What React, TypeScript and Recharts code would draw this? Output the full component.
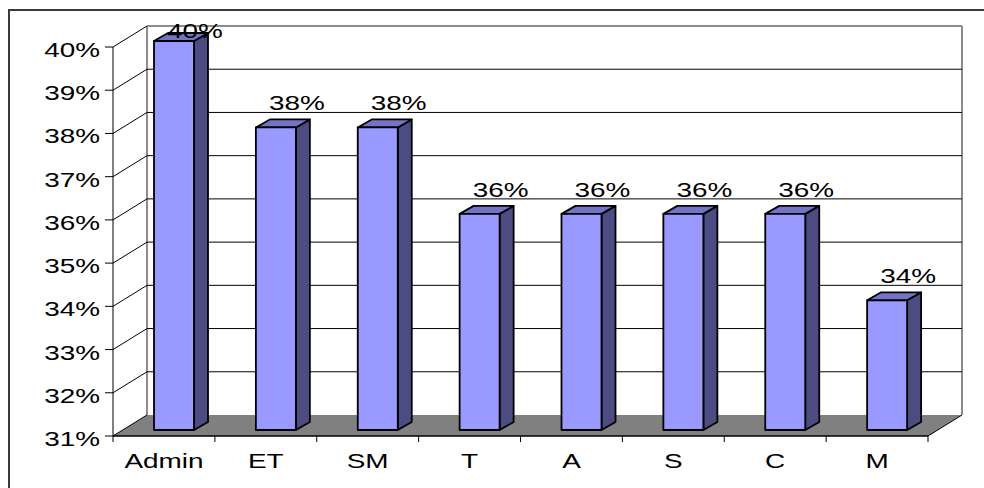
import { BarChart, Bar, XAxis, YAxis, CartesianGrid, LabelList } from "recharts";

const categories = ["Admin", "ET", "SM", "T", "A", "S", "C", "M"];
const shares = [40, 38, 38, 36, 36, 36, 36, 34];
const yTicks = [31, 32, 33, 34, 35, 36, 37, 38, 39, 40];

const data = categories.map((name, i) => ({ name, value: shares[i] }));

const FONT = "'Liberation Sans', Arial, sans-serif";
const FONT_SIZE = 21;
const STRETCH = 1.33; // text is drawn wide

// depth of the walls / floor
const WALL_DX = 34;
const WALL_DY = 21;
// each column sits in the middle of that depth
const COL_DX = 10;
const COL_DY = 6;
const SIDE_DX = 14;
const SIDE_DY = 8;

const FRONT = "#9999FF";
const TOP = "#7474C6";
const SIDE = "#4C4C82";
const FLOOR = "#808080";
const WALL = "#8C8C8C";

function Column(props: any) {
  const { x, y, width, height } = props;
  const l = x + COL_DX;
  const r = l + width;
  const t = y - COL_DY;
  const b = t + height;
  return (
    <g stroke="#000" strokeWidth={1.8} strokeLinejoin="round">
      <polygon
        points={`${r},${t} ${r + SIDE_DX},${t - SIDE_DY} ${r + SIDE_DX},${b - SIDE_DY} ${r},${b}`}
        fill={SIDE}
      />
      <polygon
        points={`${l},${t} ${l + SIDE_DX},${t - SIDE_DY} ${r + SIDE_DX},${t - SIDE_DY} ${r},${t}`}
        fill={TOP}
      />
      <rect x={l} y={t} width={width} height={height} fill={FRONT} />
    </g>
  );
}

// one row of the grid: the diagonal from the front axis plus the line on the back wall;
// the bottom row also draws the floor and the wall edges
function GridRow(props: any) {
  const { x1, x2, y1, y, height } = props;
  const by = y1 - WALL_DY;
  const isFloor = Math.abs(y1 - (y + height)) < 0.5;
  const isTop = Math.abs(y1 - y) < 0.5;
  const diag = <line x1={x1} y1={y1} x2={x1 + WALL_DX} y2={by} stroke="#000" strokeWidth={1} />;
  if (isFloor) {
    return (
      <g>
        <polygon
          points={`${x1},${y1} ${x2},${y1} ${x2 + WALL_DX},${by} ${x1 + WALL_DX},${by}`}
          fill={FLOOR}
        />
        <line x1={x2} y1={y1} x2={x2 + WALL_DX} y2={by} stroke="#000" strokeWidth={1} />
        <line x1={x1 + WALL_DX} y1={y - WALL_DY} x2={x1 + WALL_DX} y2={by} stroke={WALL} strokeWidth={2} />
        <line x1={x2 + WALL_DX} y1={y - WALL_DY} x2={x2 + WALL_DX} y2={by} stroke={WALL} strokeWidth={2} />
        {diag}
      </g>
    );
  }
  return (
    <g>
      {diag}
      <line
        x1={x1 + WALL_DX}
        y1={by}
        x2={x2 + WALL_DX}
        y2={by}
        stroke={isTop ? WALL : "#000"}
        strokeWidth={isTop ? 2 : 1}
      />
    </g>
  );
}

function YTick(props: any) {
  const { x, y, payload } = props;
  return (
    <text
      transform={`translate(${x},${y + 10}) scale(${STRETCH},1)`}
      textAnchor="end"
      fontFamily={FONT}
      fontSize={FONT_SIZE}
      fill="#000"
    >
      {`${payload.value}%`}
    </text>
  );
}

// category label plus tick marks between categories
function XTick(props: any) {
  const { x, y, payload, index, visibleTicksCount, width } = props;
  const band = width && visibleTicksCount ? width / visibleTicksCount : payload.offset * 2;
  const left = x - band / 2;
  const right = x + band / 2;
  return (
    <g>
      <line x1={left} y1={y} x2={left} y2={y + 6} stroke="#000" />
      {index === visibleTicksCount - 1 && <line x1={right} y1={y} x2={right} y2={y + 6} stroke="#000" />}
      <text
        transform={`translate(${x},${y + 32}) scale(${STRETCH},1)`}
        textAnchor="middle"
        fontFamily={FONT}
        fontSize={FONT_SIZE}
        fill="#000"
      >
        {payload.value}
      </text>
    </g>
  );
}

function ValueLabel(props: any) {
  const { x, y, width, value } = props;
  const cx = x + COL_DX + width + 1;
  const base = Math.max(y - COL_DY - 17, 38);
  return (
    <text
      transform={`translate(${cx},${base}) scale(${STRETCH},1)`}
      textAnchor="middle"
      fontFamily={FONT}
      fontSize={FONT_SIZE}
      fill="#000"
    >
      {`${value}%`}
    </text>
  );
}

export default function App() {
  return (
    <div
      style={{
        position: "absolute",
        left: 0,
        top: 0,
        width: 984,
        height: 488,
        overflow: "hidden",
        background: "#fff",
      }}
    >
      <div
        style={{
          position: "absolute",
          left: 8,
          top: 9,
          width: 1000,
          height: 500,
          border: "2px solid #3a3a3a",
        }}
      />
      <div style={{ position: "absolute", left: 0, top: 0 }}>
        <BarChart
          width={984}
          height={488}
          data={data}
          margin={{ top: 47, right: 56, bottom: 22, left: 53 }}
        >
          <CartesianGrid vertical={false} horizontal={GridRow} fill="none" />
          <XAxis
            dataKey="name"
            interval={0}
            height={30}
            tickSize={0}
            tickMargin={0}
            tickLine={false}
            axisLine={{ stroke: "#000", strokeWidth: 1.5 }}
            tick={<XTick />}
          />
          <YAxis
            type="number"
            domain={[31, 40]}
            ticks={yTicks}
            interval={0}
            width={60}
            tickSize={8}
            tickMargin={5}
            tickLine={{ stroke: "#000" }}
            axisLine={{ stroke: "#000" }}
            tick={<YTick />}
          />
          <Bar dataKey="value" barSize={40} shape={<Column />} isAnimationActive={false}>
            <LabelList dataKey="value" content={<ValueLabel />} />
          </Bar>
        </BarChart>
      </div>
    </div>
  );
}
